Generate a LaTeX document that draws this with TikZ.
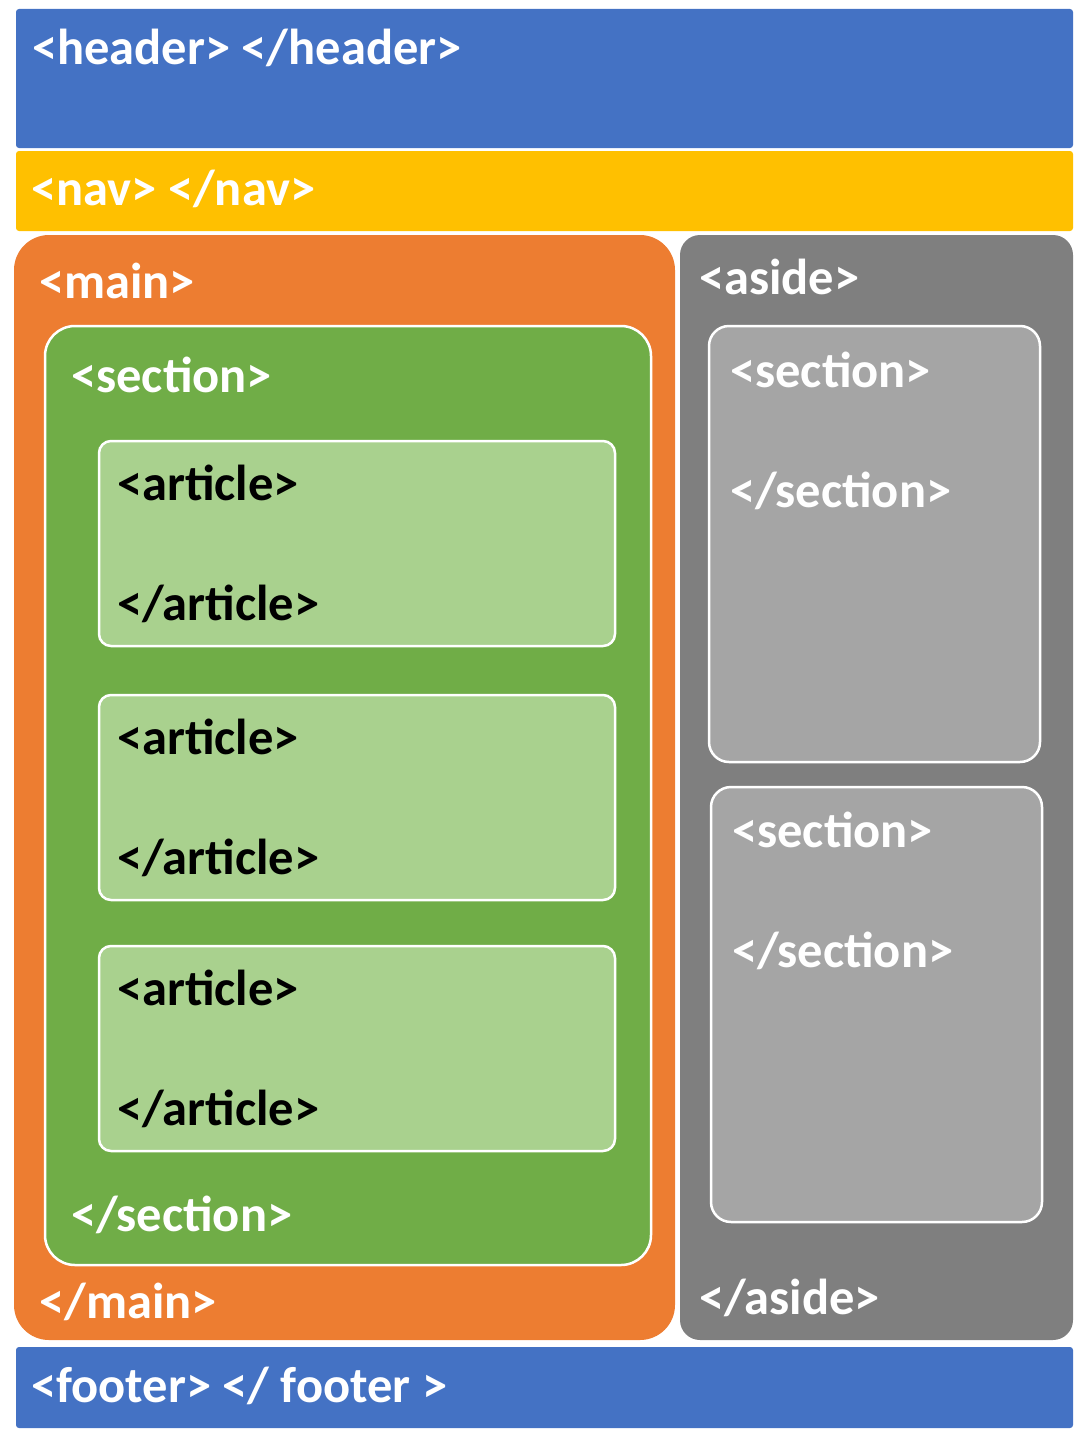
\documentclass[tikz,border=0pt]{standalone}
\usepackage{fontspec}
\setmainfont{Carlito}
\definecolor{hblue}{HTML}{4472C4}
\definecolor{navyellow}{HTML}{FFC000}
\definecolor{mainorange}{HTML}{ED7D31}
\definecolor{asidegray}{HTML}{7F7F7F}
\definecolor{secgreen}{HTML}{70AD47}
\definecolor{artgreen}{HTML}{A9D18E}
\definecolor{secgray}{HTML}{A5A5A5}
\begin{document}
\begin{tikzpicture}[x=1pt,y=-1pt,
  box/.style={anchor=north west,inner sep=0pt,outer sep=0pt},
  inbox/.style={box,draw=white,line width=2.5pt},
  tag/.style={anchor=base west,inner sep=0pt,font=\bfseries\fontsize{50.5}{60}\selectfont,text=white},
  dtag/.style={tag,text=black}]
  \useasboundingbox (0,0) rectangle (1076,1445);
  % outer blocks
  \node[box,fill=hblue,rounded corners=3pt,minimum width=1057pt,minimum height=139pt] (header) at (16,9) {};
  \node[box,fill=navyellow,rounded corners=3pt,minimum width=1057pt,minimum height=80pt] (nav) at (16,151) {};
  \node[box,fill=mainorange,rounded corners=35pt,minimum width=661pt,minimum height=1105pt] (main) at (14,235) {};
  \node[box,fill=asidegray,rounded corners=20pt,minimum width=393pt,minimum height=1105pt] (aside) at (680,235) {};
  \node[box,fill=hblue,rounded corners=3pt,minimum width=1057pt,minimum height=81pt] (footer) at (16,1347) {};
  % inner blocks
  \node[inbox,fill=secgreen,rounded corners=30pt,minimum width=606pt,minimum height=939pt] (section) at (45,326) {};
  \node[inbox,fill=artgreen,rounded corners=12pt,minimum width=516pt,minimum height=205pt] (art1) at (99,441) {};
  \node[inbox,fill=artgreen,rounded corners=12pt,minimum width=516pt,minimum height=205pt] (art2) at (99,695) {};
  \node[inbox,fill=artgreen,rounded corners=12pt,minimum width=516pt,minimum height=205pt] (art3) at (99,946) {};
  \node[inbox,fill=secgray,rounded corners=20pt,minimum width=331pt,minimum height=436pt] (asec1) at (709,326) {};
  \node[inbox,fill=secgray,rounded corners=20pt,minimum width=331pt,minimum height=435pt] (asec2) at (711,787) {};
  % tags
  \node[tag] (headertxt) at (32,64) {<header> </header>};
  \node[tag] (navtxt) at (31,205) {<nav> </nav>};
  \node[tag] (mainopen) at (39,298) {<main>};
  \node[tag] (mainclose) at (39,1318) {</main>};
  \node[tag] (secopen) at (71,392) {<section>};
  \node[tag] (secclose) at (71,1231) {</section>};
  \node[dtag] (art1open) at (117,500) {<article>};
  \node[dtag] (art1close) at (117,620) {</article>};
  \node[dtag] (art2open) at (117,754) {<article>};
  \node[dtag] (art2close) at (117,874) {</article>};
  \node[dtag] (art3open) at (117,1005) {<article>};
  \node[dtag] (art3close) at (117,1125) {</article>};
  \node[tag] (asideopen) at (699,294) {<aside>};
  \node[tag] (asideclose) at (699,1314) {</aside>};
  \node[tag] (asec1open) at (730,387) {<section>};
  \node[tag] (asec1close) at (730,507) {</section>};
  \node[tag] (asec2open) at (732,847) {<section>};
  \node[tag] (asec2close) at (732,967) {</section>};
  \node[tag] (footertxt) at (31,1402) {<footer> </ footer >};
\end{tikzpicture}
\end{document}
